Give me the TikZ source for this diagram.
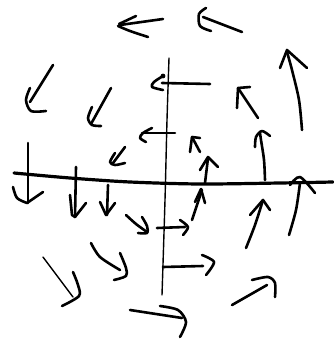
\documentclass[tikz,border=0pt]{standalone}
\begin{document}
\begin{tikzpicture}[x=1pt,y=-1pt,
  ink/.style={line width=2.6pt,line cap=round,line join=round,black},
  thinink/.style={line width=1.4pt,line cap=round,line join=round,black},
  axisink/.style={line width=3.2pt,line cap=round,line join=round,black}]
\useasboundingbox (0,0) rectangle (333,339);
% axes
\draw[thinink] plot[smooth] coordinates {(169,58) (167,120) (165,200) (162,295)};
\draw[axisink] plot[smooth] coordinates {(14,173) (70,178) (130,182) (200,184) (280,183) (333,182)};
% 1 top
\draw[ink] (163,19) -- (120,25);
\draw[ink] (136,16) -- (119,24);
\draw[ink] plot[smooth] coordinates {(118,26) (130,31) (148,37)};
% 2 top right
\draw[ink] (242,32) -- (203,17);
\draw[ink] plot[smooth] coordinates {(206,8) (199,14) (200,26) (211,31)};
% 3 left down-left
\draw[ink] (53,65) -- (30,102);
\draw[ink] plot[smooth] coordinates {(30,88) (26,100) (31,111) (46,111)};
% 4
\draw[ink] (111,88) -- (91,124);
\draw[ink] plot[smooth] coordinates {(92,107) (88,118) (92,125) (101,126)};
% 5
\draw[ink] (125,147) -- (113,163);
\draw[ink] plot[smooth] coordinates {(115,153) (110,162) (115,165) (125,163)};
% 6 left at 84
\draw[ink] (162,83) -- (210,84);
\draw[ink] plot[smooth] coordinates {(163,76) (154,82) (152,87) (163,90)};
\fill (163,76) circle (2.4);
% 7 left at 133
\draw[ink] (142,133) -- (175,133);
\draw[ink] plot[smooth] coordinates {(152,128) (143,133) (140,138) (146,142)};
% 10 big right up
\draw[ink] plot[smooth] coordinates {(302,130) (299,100) (292,70) (287,52)};
\draw[ink] (280,68) -- (287,50) -- (307,68);
% 11
\draw[ink] (258,118) -- (238,88);
\draw[ink] (237,108) -- (238,88) -- (250,87);
% 12
\draw[ink] plot[smooth] coordinates {(265,180) (264,160) (261,140) (260,133)};
\draw[ink] plot[smooth] coordinates {(255,147) (256,137) (262,131) (270,136)};
% 13
\draw[ink] (200,152) -- (192,137);
\draw[ink] (190,152) -- (192,137) -- (200,138);
% 14
\draw[ink] (205,183) -- (208,158);
\draw[ink] (200,170) -- (208,157) -- (218,167);
% 15
\draw[ink] (192,220) -- (202,190);
\draw[ink] (195,202) -- (201,189) -- (205,203);
% 16
\draw[ink] (28,143) -- (28,203);
\draw[ink] plot[smooth] coordinates {(13,187) (17,198) (27,203)} -- (43,192);
% 17
\draw[ink] (76,167) -- (75,217);
\draw[ink] (70,195) -- (72,215) -- (75,217) -- (86,203);
% 18
\draw[ink] (108,185) -- (107,215);
\draw[ink] (100,202) -- (106,215) -- (115,203);
% 19
\draw[ink] plot[smooth] coordinates {(126,215) (136,224) (147,232)};
\draw[ink] plot[smooth] coordinates {(142,217) (147,226) (147,233) (138,233)};
% 20
\draw[ink] (157,228) -- (185,227);
\draw[ink] plot[smooth] coordinates {(180,220) (188,227) (183,235)};
% 21
\draw[ink] (163,267) -- (203,266);
\draw[ink] plot[smooth] coordinates {(202,255) (214,262) (206,275)};
% 22
\draw[ink] plot[smooth] coordinates {(91,243) (100,257) (120,270)};
\draw[ink] plot[smooth] coordinates {(120,253) (126,268) (126,276) (114,280)};
% 23
\draw[thinink] (43,257) -- (73,297);
\draw[ink] plot[smooth] coordinates {(73,272) (78,285) (79,296) (62,306)};
% 24
\draw[ink] (130,310) -- (182,318);
\draw[ink] plot[smooth] coordinates {(160,306) (178,310) (186,322) (180,337)};
% 25
\draw[ink] plot[smooth] coordinates {(246,248) (255,225) (263,200)};
\draw[ink] (250,215) -- (263,200) -- (270,210);
% 26
\draw[ink] plot[smooth] coordinates {(289,235) (296,210) (300,183)};
\draw[ink] plot[smooth] coordinates {(290,185) (300,177) (315,193)};
% 27
\draw[ink] (232,305) -- (267,285);
\draw[ink] plot[smooth] coordinates {(252,280) (268,277) (275,283) (275,297)};
\end{tikzpicture}
\end{document}
